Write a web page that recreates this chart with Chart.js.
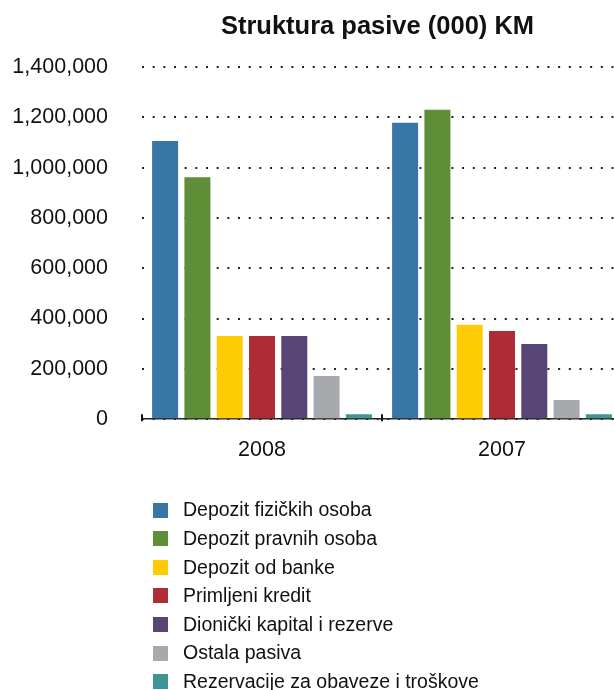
<!DOCTYPE html>
<html>
<head>
<meta charset="utf-8">
<title>Struktura pasive</title>
<script src="https://cdn.jsdelivr.net/npm/chart.js@4"></script>
<style>
    html, body { margin: 0; padding: 0; background: #fff; overflow: hidden; }
    .wrap { width: 614px; height: 690px; overflow: hidden; }
    .wrap canvas { display: block; }
</style>
</head>
<body>
<div class="wrap">
    <canvas id="pasivaChart" width="755" height="690"></canvas>
</div>
<script>
// years on the x axis
const godine = ['2008', '2007'];

// liability items, one series each (values in 000 KM)
const stavke = [
    'Depozit fizičkih osoba',
    'Depozit pravnih osoba',
    'Depozit od banke',
    'Primljeni kredit',
    'Dionički kapital i rezerve',
    'Ostala pasiva',
    'Rezervacije za obaveze i troškove'
];
const depozitFizickih = [1106000, 1178000];
const depozitPravnih = [962000, 1230000];
const depozitBanke = [331000, 375000];
const primljeniKredit = [331000, 351000];
const dionickiKapital = [331000, 299000];
const ostalaPasiva = [172000, 76000];
const rezervacije = [20000, 20000];

const yTicks = [0, 200000, 400000, 600000, 800000, 1000000, 1200000, 1400000];

const naslov = 'Struktura pasive (000) KM';

const boje = ['#3776a5', '#5e8e37', '#ffcb05', '#ae2c35', '#574576', '#a8a9ac', '#3f9595'];
const serije = [depozitFizickih, depozitPravnih, depozitBanke, primljeniKredit,
    dionickiKapital, ostalaPasiva, rezervacije];

const FONT = '"Liberation Sans", Arial, Helvetica, sans-serif';

// title centred on the whole canvas (the plot leaves room on the right)
const centredTitle = {
    id: 'centredTitle',
    afterDraw(chart) {
        const ctx = chart.ctx;
        ctx.save();
        ctx.font = 'bold 25.5px ' + FONT;
        ctx.fillStyle = '#111';
        ctx.textAlign = 'center';
        ctx.textBaseline = 'middle';
        ctx.fillText(naslov, chart.width / 2, 27);
        ctx.restore();
    }
};

// small tick marks at the category boundaries, sitting on the x axis
const categoryTicks = {
    id: 'categoryTicks',
    afterDraw(chart) {
        const x = chart.scales.x;
        const ctx = chart.ctx;
        const n = chart.data.labels.length;
        const step = (x.right - x.left) / n;
        ctx.save();
        ctx.strokeStyle = '#111';
        ctx.lineWidth = 2;
        for (let i = 0; i <= n; i++) {
            const px = Math.round(x.left + i * step);
            ctx.beginPath();
            ctx.moveTo(px, x.top - 5);
            ctx.lineTo(px, x.top + 2);
            ctx.stroke();
        }
        ctx.restore();
    }
};

// one-column legend under the plot
const columnLegend = {
    id: 'columnLegend',
    afterDraw(chart) {
        const ctx = chart.ctx;
        ctx.save();
        ctx.font = '19.5px ' + FONT;
        ctx.textBaseline = 'middle';
        chart.data.datasets.forEach((ds, i) => {
            const cy = 510 + i * 28.6;
            ctx.fillStyle = ds.backgroundColor;
            ctx.fillRect(153, Math.round(cy - 7.5), 15, 15);
            ctx.fillStyle = '#111';
            ctx.fillText(ds.label, 183, cy + 1);
        });
        ctx.restore();
    }
};

const ctx = document.getElementById('pasivaChart');

new Chart(ctx, {
    type: 'bar',
    data: {
        labels: godine,
        datasets: stavke.map((naziv, i) => ({
            label: naziv,
            data: serije[i],
            backgroundColor: boje[i],
            borderWidth: 0,
            categoryPercentage: 0.942,
            barPercentage: 0.805
        }))
    },
    options: {
        responsive: false,
        animation: false,
        layout: {
            padding: { left: 0, right: 133, top: 67, bottom: 217 }
        },
        plugins: {
            legend: { display: false },
            tooltip: { enabled: false },
            title: { display: false }
        },
        scales: {
            x: {
                grid: { display: false },
                border: { display: true, color: '#222', width: 1.5 },
                ticks: {
                    color: '#111',
                    padding: 10,
                    font: { family: FONT, size: 21.5 }
                }
            },
            y: {
                min: 0,
                max: 1400000,
                afterFit(scale) { scale.width = 142; },
                afterBuildTicks(scale) {
                    scale.ticks = yTicks.map(v => ({ value: v }));
                },
                border: { display: false, dash: [2, 8.67] },
                grid: {
                    drawTicks: false,
                    color: '#222',
                    lineWidth: 2
                },
                ticks: {
                    color: '#111',
                    padding: 34,
                    font: { family: FONT, size: 21.5 },
                    callback: v => v.toLocaleString('en-US')
                }
            }
        }
    },
    plugins: [centredTitle, categoryTicks, columnLegend]
});
</script>
</body>
</html>
